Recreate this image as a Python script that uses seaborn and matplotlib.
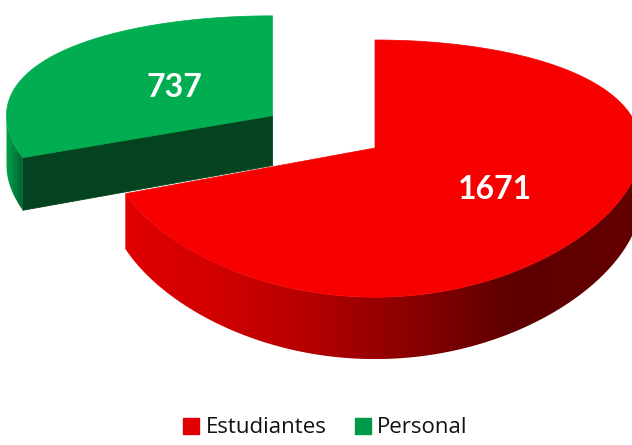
import numpy as np
import matplotlib
matplotlib.use("Agg")
import matplotlib.pyplot as plt
import seaborn as sns
from matplotlib.patches import Polygon, Patch
from matplotlib.colors import LinearSegmentedColormap

# ---- data ----
categories = ["Estudiantes", "Personal"]
values = [1671, 737]
explode = [0.0, 0.47]
top_colors = ["#f70000", "#00ad50"]
face_colors = ["#7a0000", "#03431f"]
legend_colors = ["#e00000", "#00994a"]
label_frac = [0.55, 0.45]

sns.set_theme(style="white")
plt.rcParams["font.family"] = ["Lato", "DejaVu Sans"]

W, H = 632, 445
fig = plt.figure(figsize=(W / 100, H / 100), dpi=100)
ax = fig.add_axes([0, 0, 1, 1])
ax.set_xlim(0, W)
ax.set_ylim(H, 0)
ax.axis("off")

# tilted-disc projection (simple vertical perspective)
cx, cy = 375, 148
rx, a_y, persp = 266, 125.3, 0.16
depth = 52

def proj(u, v, h=0.0):
    s = 1.0 / (1.0 + persp * v)
    return cx + rx * u, cy - a_y * v * s + h * depth * s

def disc(theta_deg, ou, ov, frac=1.0):
    t = np.radians(theta_deg)
    return ou + frac * np.cos(t), ov + frac * np.sin(t)

side_cmaps = [
    LinearSegmentedColormap.from_list(
        "rs", [(0.0, "#e00000"), (0.17, "#d20000"), (0.37, "#b20000"),
               (0.55, "#8a0000"), (0.75, "#5e0000"), (1.0, "#640000")]),
    LinearSegmentedColormap.from_list("gs", [(0.0, "#02a64c"), (1.0, "#016030")]),
]

total = float(sum(values))
fracs = [v / total for v in values]
starts = np.cumsum([0] + fracs[:-1])

wedges = []
for i, (f, s0) in enumerate(zip(fracs, starts)):
    th1 = 90 - s0 * 360
    th2 = 90 - (s0 + f) * 360
    mid = (th1 + th2) / 2
    ou, ov = disc(mid, 0, 0, explode[i])
    wedges.append((i, th1, th2, mid, ou, ov))

for i, th1, th2, mid, ou, ov in sorted(wedges, key=lambda w: -explode[w[0]]):
    # radial faces
    for a, n_ang in ((th1, th1 + 90), (th2, th2 - 90)):
        if np.sin(np.radians(n_ang)) < -1e-6:
            eu, ev = disc(a, ou, ov)
            p0 = proj(ou, ov); p1 = proj(eu, ev)
            p2 = proj(eu, ev, 1); p3 = proj(ou, ov, 1)
            ax.add_patch(Polygon([p0, p1, p2, p3], closed=True, facecolor=face_colors[i],
                                 edgecolor=face_colors[i], lw=0.6, zorder=2))
    # outer side wall, visible front arc, with horizontal gradient
    lo, hi = min(th1, th2), max(th1, th2)
    angs = np.linspace(lo, hi, 600)
    vis = (np.mod(angs, 360) >= 180)
    if vis.any():
        va = angs[vis]
        uu, vv = disc(va, ou, ov)
        tx, ty = proj(uu, vv)
        bx, by = proj(uu, vv, 1)
        poly = list(zip(tx, ty)) + list(zip(bx[::-1], by[::-1]))
        patch = Polygon(poly, closed=True, facecolor="none", edgecolor="none", zorder=2)
        ax.add_patch(patch)
        x0, x1 = min(tx.min(), bx.min()), max(tx.max(), bx.max())
        y0, y1 = min(ty.min(), by.min()), max(ty.max(), by.max())
        grad = np.linspace(0, 1, 256)[None, :]
        im = ax.imshow(grad, cmap=side_cmaps[i], extent=(x0, x1, y1, y0),
                       aspect="auto", zorder=2, interpolation="bilinear")
        im.set_clip_path(patch)
    # top face
    angs = np.linspace(th1, th2, 400)
    uu, vv = disc(angs, ou, ov)
    xs, ys = proj(uu, vv)
    top = [proj(ou, ov)] + list(zip(xs, ys))
    ax.add_patch(Polygon(top, closed=True, facecolor=top_colors[i],
                         edgecolor=top_colors[i], lw=0.5, zorder=3))
    lu, lv = disc(mid, ou, ov, label_frac[i])
    lx, ly = proj(lu, lv)
    ax.text(lx, ly, f"{values[i]}", color="white", fontsize=23, fontweight="bold",
            ha="center", va="center", zorder=5)

ax.set_xlim(0, W)
ax.set_ylim(H, 0)

handles = [Patch(facecolor=c, edgecolor=c, label=lab) for c, lab in zip(legend_colors, categories)]
fig.legend(handles=handles, loc="lower center", bbox_to_anchor=(0.515, -0.03), ncol=2,
           frameon=False, prop={"family": ["Open Sans", "DejaVu Sans"], "size": 16},
           handlelength=0.72, handleheight=0.72,
           columnspacing=1.25, handletextpad=0.3, labelcolor="#111111")

fig.savefig("out.png", dpi=100)
